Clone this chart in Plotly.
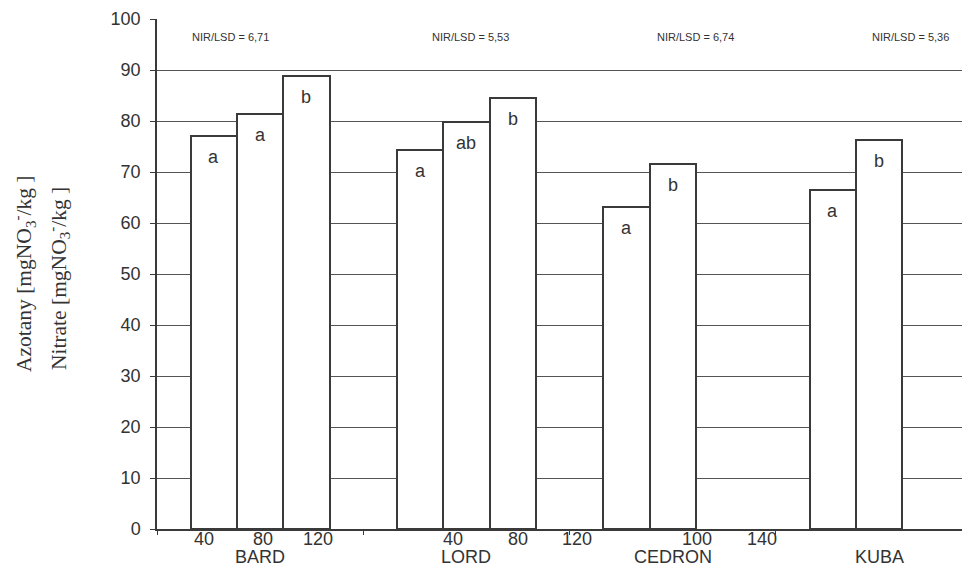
import plotly.graph_objects as go

# ---- data ----
cultivars = ["BARD", "LORD", "CEDRON", "KUBA"]
bard_values = [77.1, 81.4, 88.8]
lord_values = [74.3, 79.9, 84.6]
cedron_values = [63.2, 71.5]
kuba_values = [66.4, 76.3]
bard_letters = ["a", "a", "b"]
lord_letters = ["a", "ab", "b"]
cedron_letters = ["a", "b"]
kuba_letters = ["a", "b"]
lsd_labels = ["NIR/LSD = 6,71", "NIR/LSD = 5,53", "NIR/LSD = 6,74", "NIR/LSD = 5,36"]
dose_labels = ["40", "80", "120", "40", "80", "120", "100", "140"]
y_ticks = list(range(0, 101, 10))

values = [bard_values, lord_values, cedron_values, kuba_values]
letters = [bard_letters, lord_letters, cedron_letters, kuba_letters]

# ---- layout constants ----
PAGE_OFF = 8                      # default body margin of the html page
W, H = 970 - PAGE_OFF, 568 - PAGE_OFF
L, T, B = 157 - PAGE_OFF, 19 - PAGE_OFF, 39
BAR_W = 0.2245
X_RANGE = [-0.5, 3.441]
dose_label_x = [-0.272, 0.014, 0.280, 0.935, 1.250, 1.536, 2.118, 2.433]
lsd_x = [-0.34, 0.823, 1.914, 2.956]
axis_col = "#3a3a3a"
text_col = "#333333"
SANS = "Liberation Sans, Arial"
SERIF = "Liberation Serif, Times New Roman"

fig = go.Figure()
xs, ys, txt = [], [], []
for gi, vals in enumerate(values):
    for j, v in enumerate(vals):
        xs.append(gi + (j - 1) * BAR_W)
        ys.append(v)
        txt.append(letters[gi][j])

fig.add_trace(go.Bar(
    x=xs, y=ys, width=BAR_W,
    marker=dict(color="white", line=dict(color=axis_col, width=2)),
    showlegend=False, hoverinfo="skip",
))


def px_to_paper(px_page):
    return (px_page - PAGE_OFF - L) / (W - L)


annotations = []
for x, y, t in zip(xs, ys, txt):
    annotations.append(dict(x=x, y=y, xref="x", yref="y", text=t, showarrow=False,
                            yanchor="top", yshift=-9,
                            font=dict(family=SANS, size=18, color=text_col)))
for x, t in zip(lsd_x, lsd_labels):
    annotations.append(dict(x=x, y=96.5, xref="x", yref="y", text=t, showarrow=False,
                            xanchor="left",
                            font=dict(family=SANS, size=11, color=text_col)))
for x, t in zip(dose_label_x, dose_labels):
    annotations.append(dict(x=x, y=0, xref="x", yref="paper", text=t, showarrow=False,
                            yanchor="top", yshift=2,
                            font=dict(family=SANS, size=18, color=text_col)))
for gi, c in enumerate(cultivars):
    annotations.append(dict(x=gi, y=0, xref="x", yref="paper", text=c, showarrow=False,
                            yanchor="top", yshift=-16,
                            font=dict(family=SANS, size=18, color=text_col)))
annotations.append(dict(x=px_to_paper(24), y=0.5, xref="paper", yref="paper", xanchor="center",
                        yanchor="middle",
                        text="Azotany [mgNO<sub>3</sub><sup>-</sup>/kg ]", showarrow=False,
                        textangle=-90,
                        font=dict(family=SERIF, size=21.5, color=text_col)))
annotations.append(dict(x=px_to_paper(59), y=0.49, xref="paper", yref="paper", xanchor="center",
                        yanchor="middle",
                        text="Nitrate [mgNO<sub>3</sub><sup>-</sup>/kg ]", showarrow=False,
                        textangle=-90,
                        font=dict(family=SERIF, size=21.5, color=text_col)))

fig.update_layout(
    width=W, height=H,
    margin=dict(l=L, r=0, t=T, b=B, pad=0),
    plot_bgcolor="white", paper_bgcolor="white",
    bargap=0,
    annotations=annotations,
    xaxis=dict(range=X_RANGE, showgrid=False, zeroline=False,
               tickvals=[-0.5, 0.5, 1.5, 2.5], ticktext=["", "", "", ""],
               ticks="outside", ticklen=4, tickcolor=axis_col,
               showline=True, linecolor=axis_col, linewidth=1.5),
    yaxis=dict(range=[0, 100], tickvals=y_ticks, showgrid=True, gridcolor="#555555", gridwidth=1,
               zeroline=False, ticks="outside", ticklen=5, tickcolor=axis_col,
               showline=True, linecolor=axis_col, linewidth=1.5, ticklabelstandoff=6,
               tickfont=dict(family=SANS, size=18, color=text_col)),
)

fig.write_html("out.html")
